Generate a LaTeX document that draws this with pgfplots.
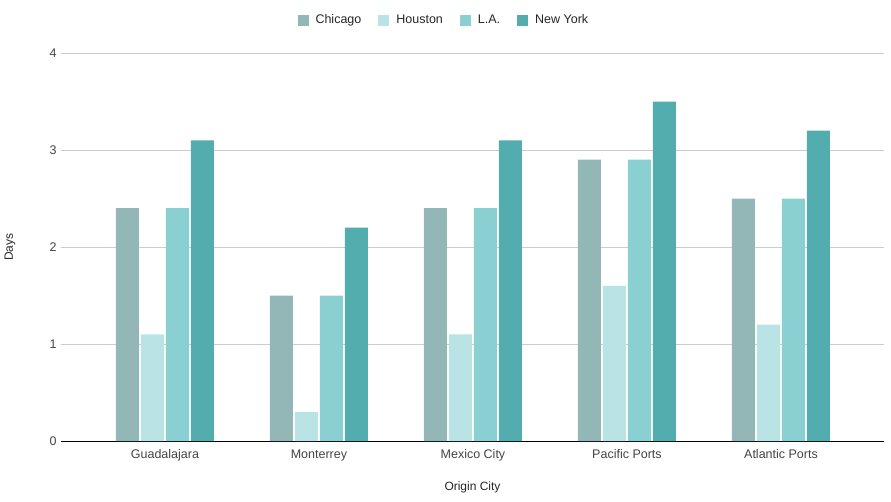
\documentclass[border=0pt]{standalone}
\usepackage{fontspec}
\setmainfont{Liberation Sans}
\usepackage{pgfplots}
\pgfplotsset{compat=1.18}
\definecolor{cchi}{HTML}{93B7B7}
\definecolor{chou}{HTML}{B9E3E4}
\definecolor{cla}{HTML}{8ACFD2}
\definecolor{cny}{HTML}{53ACAE}
\definecolor{tickc}{HTML}{444444}
\begin{document}
\begin{tikzpicture}[x=1pt,y=1pt]
\useasboundingbox (0,0) rectangle (891,501);
\begin{axis}[
  at={(61pt,60pt)}, anchor=south west,
  scale only axis, width=823pt, height=388pt,
  ybar=2pt, bar width=23pt,
  xmin=-0.675, xmax=4.669,
  ymin=0, ymax=4,
  xtick=data,
  xticklabels={Guadalajara,Monterrey,Mexico City,Pacific Ports,Atlantic Ports},
  ytick={0,1,2,3,4},
  /pgf/number format/assume math mode=true,
  major tick length=0pt,
  tick style={draw=none},
  axis lines*=left,
  y axis line style={draw=none},
  x axis line style={black, line width=0.9pt, -},
  ymajorgrids,
  grid style={draw=black!20, line width=0.8pt},
  ticklabel style={font=\fontsize{12.5}{14}\selectfont, text=tickc},
  yticklabel style={xshift=-1pt},
  xticklabel style={yshift=-5pt},
  xlabel={Origin City}, ylabel={Days},
  label style={font=\fontsize{12}{14}\selectfont, text=black!85},
  x label style={at={(axis description cs:0.5,-0.1186)}, anchor=center},
  y label style={at={(axis description cs:-0.062,0.5)}, anchor=center, rotate=0},
  legend columns=4,
  legend style={at={(0.4652,1.085)}, anchor=center, draw=none, fill=none,
    font=\fontsize{12.5}{14}\selectfont, text=black!85,
    /tikz/every odd column/.append style={column sep=5pt},
    /tikz/every even column/.append style={column sep=15pt}},
  legend image code/.code={\fill[#1] (0pt,-5.5pt) rectangle (11pt,5.5pt);},
]
\addplot[fill=cchi, draw=none] coordinates {(0,2.4) (1,1.5) (2,2.4) (3,2.9) (4,2.5)};
\addplot[fill=chou, draw=none] coordinates {(0,1.1) (1,0.3) (2,1.1) (3,1.6) (4,1.2)};
\addplot[fill=cla, draw=none] coordinates {(0,2.4) (1,1.5) (2,2.4) (3,2.9) (4,2.5)};
\addplot[fill=cny, draw=none] coordinates {(0,3.1) (1,2.2) (2,3.1) (3,3.5) (4,3.2)};
\legend{Chicago,Houston,L.A.,New York}
\end{axis}
\end{tikzpicture}
\end{document}
